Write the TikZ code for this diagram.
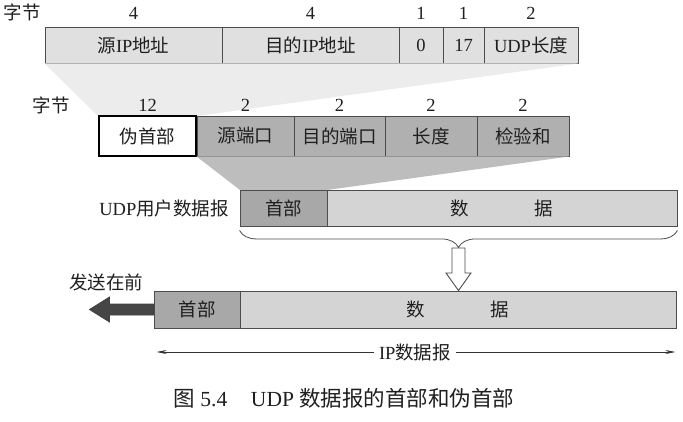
\documentclass[tikz,border=0pt]{standalone}
\usepackage{fontspec}
\setmainfont{Liberation Serif}
\newfontfamily\cjk{Noto Sans CJK SC}
\newcommand\zh[1]{{\cjk #1}}
\usetikzlibrary{decorations.pathreplacing,arrows.meta}
\definecolor{topfill}{gray}{0.88}
\definecolor{funnelA}{gray}{0.925}
\definecolor{udpfill}{gray}{0.69}
\definecolor{funnelB}{gray}{0.74}
\definecolor{dghead}{gray}{0.66}
\definecolor{dgdata}{gray}{0.83}
\definecolor{linegray}{gray}{0.3}
\definecolor{txt}{gray}{0.12}
\tikzset{
  lbl/.style={font=\fontsize{18.5}{22}\selectfont, text=txt, inner sep=0pt},
  cell/.style={lbl, draw=linegray, line width=0.9pt, minimum height=#1},
  cell/.default=36pt,
  topcell/.style={cell=36pt, fill=topfill},
  udpcell/.style={cell=40pt, fill=udpfill},
  pseudobox/.style={lbl, draw=black, line width=2.6pt, fill=white, minimum height=40pt},
  fatarrow/.style={fill=gray!55!black, draw=black!75, line width=0.8pt, line join=miter},
  hollowarrow/.style={fill=white, draw=linegray, line width=0.9pt},
  bracestyle/.style={draw=linegray, line width=0.8pt, decorate, decoration={brace, mirror, amplitude=17pt}},
  lenarrow/.style={draw=black!80, line width=0.8pt, -{Stealth[length=10pt,width=4pt]}},
}
\begin{document}
\begin{tikzpicture}[x=1pt,y=-1pt]
\useasboundingbox (0,0) rectangle (683,421);

% ---- top row: pseudo header fields
\node[topcell, minimum width=177pt] (srcip) at (133.5,45) {\zh{源}IP\zh{地址}};
\node[topcell, minimum width=177pt] (dstip) at (310.5,45) {\zh{目的}IP\zh{地址}};
\node[topcell, minimum width=44pt]  (zero)  at (421,45)   {0};
\node[topcell, minimum width=41pt]  (proto) at (463.5,45) {17};
\node[topcell, minimum width=94pt]  (udplen) at (531,45)  {UDP\zh{长度}};

\node[lbl] (bytes1) at (22,12) {\zh{字节}};
\node[lbl] (n1) at (srcip.north |- 0,13) {4};
\node[lbl] (n2) at (dstip.north |- 0,13) {4};
\node[lbl] (n3) at (zero.north |- 0,13) {1};
\node[lbl] (n4) at (proto.north |- 0,13) {1};
\node[lbl] (n5) at (udplen.north |- 0,13) {2};

% ---- second row
\coordinate (psW) at (98,116);
\coordinate (psE) at (197,116);
\fill[funnelA] (srcip.south west) -- (udplen.south east) -- (psE) -- (psW) -- cycle;

\node[udpcell, minimum width=97pt] (sport) at (245.5,136) {\zh{源端口}};
\node[udpcell, minimum width=91pt] (dport) at (339.5,136) {\zh{目的端口}};
\node[udpcell, minimum width=92pt] (ulen)  at (431,136)   {\zh{长度}};
\node[udpcell, minimum width=92pt] (csum)  at (523,136)   {\zh{检验和}};
\node[pseudobox, minimum width=97pt] (pseudo) at (147.5,136) {\zh{伪首部}};

\node[lbl] (bytes2) at (51,105) {\zh{字节}};
\node[lbl] (m1) at (pseudo.north |- 0,105) {12};
\node[lbl] (m2) at (sport.north |- 0,105) {2};
\node[lbl] (m3) at (dport.north |- 0,105) {2};
\node[lbl] (m4) at (ulen.north |- 0,105) {2};
\node[lbl] (m5) at (csum.north |- 0,105) {2};

% ---- UDP datagram
\coordinate (dhNW) at (240,190);
\coordinate (dhNE) at (327,190);
\fill[funnelB] (sport.south west) -- (csum.south east) -- (dhNE) -- (dhNW) -- cycle;
\node[cell=36pt, fill=dghead, minimum width=87pt] (dh) at (283.5,208) {\zh{首部}};
\node[cell=36pt, fill=dgdata, minimum width=350pt] (dd) at (502,208) {\zh{数}\hspace{65.5pt}\zh{据}\hspace{34pt}};
\node[lbl, anchor=east] (udplabel) at (229,208) {UDP\zh{用户数据报}};

% ---- brace and hollow arrow
\draw[bracestyle] ([yshift=-4pt]dh.south west) -- ([yshift=-4pt]dd.south east);
\coordinate (btip) at (458.5,248);

% ---- IP datagram
\node[cell=37pt, fill=dghead, minimum width=86pt] (iph) at (197,309.5) {\zh{首部}};
\node[cell=37pt, fill=dgdata, minimum width=436pt] (ipd) at (458,309.5) {\zh{数}\hspace{65.5pt}\zh{据}\hspace{26pt}};
\coordinate (atip) at (btip |- ipd.north);
\draw[hollowarrow] ([xshift=-6.5pt]btip) -- ([xshift=-6.5pt,yshift=-25pt]btip)
  -- ([xshift=-12.5pt,yshift=-25pt]btip) -- (atip)
  -- ([xshift=12.5pt,yshift=-25pt]btip) -- ([xshift=6.5pt,yshift=-25pt]btip)
  -- ([xshift=6.5pt]btip) -- cycle;

% ---- send-first arrow
\node[lbl] (sendfirst) at (106,282) {\zh{发送在前}};
\draw[fatarrow] ([yshift=5.5pt]iph.west) -- ([xshift=-44pt,yshift=5.5pt]iph.west)
  -- ([xshift=-44pt,yshift=12.5pt]iph.west) -- ([xshift=-64pt]iph.west)
  -- ([xshift=-44pt,yshift=-12.5pt]iph.west) -- ([xshift=-44pt,yshift=-5.5pt]iph.west)
  -- ([yshift=-5.5pt]iph.west) -- cycle;

% ---- IP datagram length
\node[lbl, fill=white, inner xsep=5pt] (iplabel) at (415,352) {IP\zh{数据报}};
\draw[lenarrow] (iplabel.west) -- ([xshift=3pt]iph.west |- iplabel);
\draw[lenarrow] (iplabel.east) -- ([xshift=-1pt]ipd.east |- iplabel);

% ---- caption
\node[lbl, font=\fontsize{21.5}{25}\selectfont] (caption) at (344,398)
  {\zh{图} 5.4\hspace{1.1em}UDP \zh{数据报的首部和伪首部}};
\end{tikzpicture}
\end{document}
